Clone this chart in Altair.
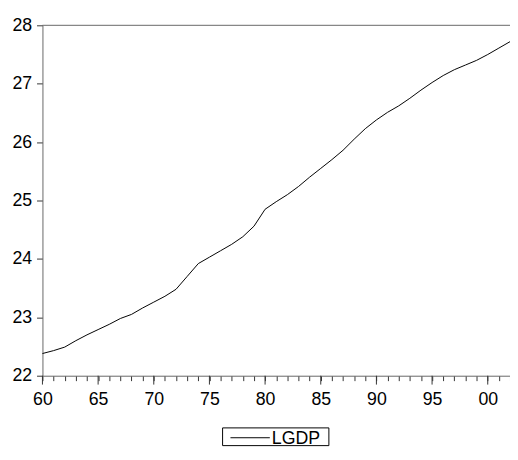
import altair as alt
import pandas as pd

years = list(range(1960, 2003))
lgdp = [22.38, 22.43, 22.49, 22.60, 22.70, 22.79, 22.88, 22.98, 23.05, 23.16,
        23.26, 23.36, 23.48, 23.70, 23.92, 24.03, 24.14, 24.25, 24.38, 24.56,
        24.85, 24.98, 25.10, 25.24, 25.40, 25.55, 25.70, 25.86, 26.05, 26.23,
        26.38, 26.51, 26.62, 26.75, 26.89, 27.02, 27.14, 27.24, 27.32, 27.40,
        27.50, 27.61, 27.72]
major_years = [1960, 1965, 1970, 1975, 1980, 1985, 1990, 1995, 2000]
y_ticks = [22, 23, 24, 25, 26, 27, 28]
series = "LGDP"

df = pd.DataFrame({"year": years, "value": lgdp, "series": series})

FONT = "Liberation Sans"
AX = "#333333"
H = 356

xscale = alt.Scale(domain=[1960, 2002], nice=False, zero=False)
yscale = alt.Scale(domain=[22, 28], nice=False, zero=False)

x_axis = alt.Axis(values=years, title=None, grid=False,
                  tickColor=AX, tickWidth=1, tickSize=5,
                  labelExpr="datum.value % 5 === 0 ? substring(toString(datum.value), 2, 4) : ''",
                  labelOverlap=False, labelPadding=10, labelFlush=False)
y_axis = alt.Axis(values=y_ticks, format="d", title=None, grid=False,
                  tickColor=AX, tickWidth=1, tickSize=6, labelPadding=5)

line = alt.Chart(df).mark_line(strokeWidth=1, color="black").encode(
    x=alt.X("year:Q", scale=xscale, axis=x_axis),
    y=alt.Y("value:Q", scale=yscale, axis=y_axis),
)

major = alt.Chart(pd.DataFrame({"year": major_years})).mark_rule(color=AX, strokeWidth=1).encode(
    x=alt.X("year:Q", scale=xscale, axis=x_axis), y=alt.value(H), y2=alt.value(H + 9)
)

top = alt.Chart(pd.DataFrame({"value": [28]})).mark_rule(color="#666666", strokeWidth=1).encode(
    y=alt.Y("value:Q", scale=yscale, axis=y_axis)
)

leg = pd.DataFrame({"series": [series]})
leg_box = alt.Chart(leg).mark_rect(fill="white", stroke="black", strokeWidth=1).encode(
    x=alt.value(183), x2=alt.value(291), y=alt.value(409), y2=alt.value(427)
)
leg_sym = alt.Chart(leg).mark_rule(color="black", strokeWidth=1).encode(
    x=alt.value(191), x2=alt.value(231), y=alt.value(419)
)
leg_txt = alt.Chart(leg).mark_text(font=FONT, fontSize=18, align="left", baseline="alphabetic",
                                   color="black").encode(
    x=alt.value(233), y=alt.value(425), text="series:N"
)

chart = alt.layer(line, top, major, leg_box, leg_sym, leg_txt).properties(
    width=475, height=H,
    autosize=alt.AutoSizeParams(type="none"),
    padding={"left": 35, "top": 14, "right": 0, "bottom": 80},
).configure_view(stroke=None).configure_axis(
    labelFont=FONT, labelFontSize=18, labelColor="black",
    domainColor="#666666", domainWidth=1, ticks=True,
)

chart.save("out.html", embed_options={"renderer": "svg", "actions": False})
